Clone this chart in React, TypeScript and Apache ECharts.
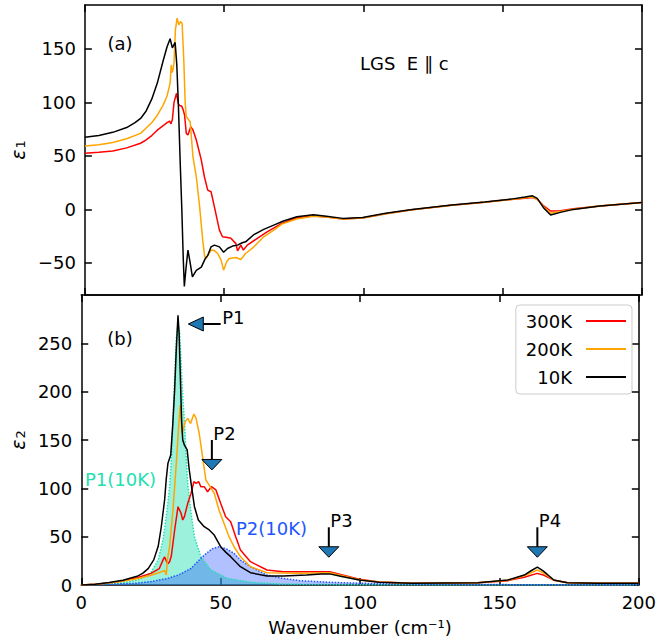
import React, { useEffect, useRef } from 'react';
import * as echarts from 'echarts';

const FONT = '"DejaVu Sans", sans-serif';

// ---------- top panel: epsilon_1 ----------
const e1X10K = [0,5,10,15,18,20,22,24,26,28,29.5,30.6,31.4,32.4,33.0,33.6,34.2,34.8,35.3,35.7,36.3,37.0,37.8,38.6,39.3,40,41.8,43.2,44.1,45.3,46.5,48.3,49.8,51.2,53,54.8,56.5,57.7,60.7,64.2,67.8,71.3,76.1,82,86.7,92.6,99.7,108,117.5,131.7,143.5,153,158,160.7,162.4,164.8,167.2,170.7,175.4,184.9,200];
const e1Y10K = [67.4,69,72,76.5,81,85,92,103,118,138,152,159.5,151,156,135,95,45,0,-45,-72,-55,-38,-50,-63,-60,-57,-54,-46,-43,-35,-33.4,-35,-40,-36.5,-34.3,-33.4,-31.2,-30.3,-23.5,-18.7,-14.7,-10.9,-6.9,-5,-6.3,-8.4,-7.5,-3.7,0,4,6.8,9.6,11.5,12.7,10.3,1,-5.3,-2.8,0,3.1,6.5];

const e1X200K = [0,5,10,15,20,22,24,26,28,29.5,30.6,31.0,31.3,31.6,32.0,32.5,33.1,33.7,34.3,34.9,35.5,36.0,36.4,37.3,37.8,38.8,40,41.2,42.3,43.0,43.5,45.3,46.5,47.7,48.9,49.8,50.9,51.8,54.2,56,57.7,60.7,64.2,67.8,70.7,76,82,86.7,92.6,99.7,108,117.5,131.7,143.5,153,158,160.7,162.4,164.8,167.2,170.7,175.4,184.9,200];
const e1Y200K = [59.2,60.5,62.5,66,71,76,81,88,97,106,118,135,128,130,137,168,178.7,172.5,175.5,174,140,100,86.7,83.5,82,49,30.5,2.4,-28.7,-44,-45.9,-38,-38.5,-41.2,-47.4,-56.8,-49,-45.9,-45,-46.8,-41.2,-35,-25.6,-19.4,-13.8,-9,-6.5,-7.2,-9,-8,-4,-0.3,3.8,6.6,9.3,10.8,11.5,9.5,2,-3.5,-2,0.2,3.1,6.5];

const e1X300K = [0,5,10,15,20,22,24,26,28,29.5,30.4,30.9,31.4,32.0,32.9,33.5,34.0,34.7,35.3,35.8,36.4,37,38,38.8,40,41.8,42.9,44.1,45.3,46.5,48.3,49.4,51.2,52.4,54.2,54.8,56,56.9,58.3,61.9,65.4,70.7,76,82,86.7,92.6,99.7,108,117.5,131.7,143.5,153,158,160.7,162.4,164.8,167.2,170.7,175.4,184.9,200];
const e1Y300K = [52.4,53.3,54.6,57.5,61.8,65,69,74,78,81,82.5,80,84,100,108.5,99,97,96.7,93,88,71,69.5,77.3,74.2,64.8,46,30.5,18,16.5,2.4,-19.4,-25.6,-26.2,-27,-32,-38.7,-33.4,-38,-33.4,-27.1,-21,-13.1,-8,-6.2,-7.2,-9,-8,-4,-0.3,3.8,6.6,9.3,10.5,11,9.5,3,-1.5,-1.2,0.5,3.2,6.5];

// ---------- bottom panel: epsilon_2 ----------
const e2X10K = [0,5,10,15,20,22,24,26,27.6,28.7,29.9,30.5,31.1,32.1,32.8,33.5,34.1,34.7,35.1,35.5,36.0,36.4,37,38,38.7,39.4,40.6,42,44.1,45.9,47.7,50,51.8,53.6,57.1,60.7,66.6,72.5,80.8,86,89.1,93,99.7,106.8,118.6,142.3,153,158.9,161.5,163.6,165,166,169.5,174.3,185,200];
const e2Y10K = [0,0.8,2.5,5,9,12,17,26,40,60,88,110,126,134.5,165,202,245,279,260,220,170,150,144.8,139.7,120,105.2,81,67.2,60.3,56.9,51.7,39.6,34,29.3,18.9,12.7,9.3,9.3,10.3,11.5,11.5,9,5.2,2.8,1.7,2.4,5.2,10.3,15,18.5,16,13.8,5.2,2.4,1.8,1.7];

const e2X200K = [0,5,10,15,20,25,28,29.9,30.5,30.9,31.7,32.9,34.1,35,35.5,36.2,37.3,38.2,39.2,40.4,41.2,42.3,43.5,44.7,45.9,47.7,49.4,51.2,53,54.8,57.1,60.7,66.6,78.4,89.1,93,99.7,106.8,118.6,142.3,153,158.9,163.6,166,169.5,174.3,185,200];
const e2Y200K = [0,0.7,2,4,6.5,10,13,15,10.3,25.9,40,77.6,126,167,186,157,169,172.4,167,176.9,172.4,157,132.7,108.6,103.4,94.9,77.6,63.8,50,39.6,29.3,18.9,12.7,12.1,12.7,10,5.5,3,1.8,2.4,5,9.5,15.5,12,5,2.4,1.8,1.7];

const e2X300K = [0,5,10,15,20,25,28,29.5,29.9,30.5,31.1,31.7,32.3,33.5,34.7,35.8,36.4,37,38.2,39.4,40.4,41.2,42.1,42.9,44.1,45.3,46.7,48.3,50,51.8,53.6,55.4,57.1,60.7,66.6,72.5,80,89.1,93,99.7,106.8,118.6,142.3,153,158.9,163.6,166,169.5,174.3,185,200];
const e2Y300K = [0,0.8,2.2,4.5,7.5,12,17,27,29,25,22,24,30,56.9,81,74.2,67.2,70.7,84.5,94.9,106.9,105.2,106.9,101.7,101.7,96.5,101.7,98.3,84.5,70.7,65.5,50,36.2,24.1,15.5,13.8,13.8,13.8,11,5.9,3,1.8,2.4,4.5,8,12,10,5,2.6,1.8,1.7];

// Lorentzian fit components (10K)
const p1FitX = [0,10,15,20,23,25,27.6,29.2,29.9,30.8,31.7,32.3,32.9,33.5,34.1,34.7,35.3,35.9,36.5,37,37.6,38.2,39.4,40.6,42.9,46.5,52.4,60.7,70,80,100,150,200];
const p1FitY = [0,1,2.5,5,9,13,26,45,58,78,102,130,171,215,255,270,262,225,190,171,135,105,74,50,29.3,15.5,6.9,2.8,1.2,0.6,0.2,0.05,0];
const p2FitX = [0,10,19.3,25,31.1,35,39.4,42.9,45,47,49.4,52,54.8,57,60.7,66.6,72,78.4,89.1,100,120,150,200];
const p2FitY = [0,0.8,1.7,3.5,6.9,10.5,17.2,27.6,33,37.5,39.6,37.5,32.8,26,18.9,10.3,7,4.5,2.8,1.8,0.9,0.4,0.2];

// Peak arrows (tail -> tip, data coordinates of panel b)
const arrowTailX = [50, 46.85, 88.8, 163.6];
const arrowTailY = [270, 150, 59.7, 59.7];
const arrowTipX = [38.4, 46.85, 88.8, 163.6];
const arrowTipY = [270, 119, 28.7, 28.7];
const arrowLabels = ['P1', 'P2', 'P3', 'P4'];

// Axis ticks
const e1Ticks = [-50, 0, 50, 100, 150];
const e2Ticks = [0, 50, 100, 150, 200, 250];
const seriesNames = ['300K', '200K', '10K'];

const zip = (xs: number[], ys: number[]) => xs.map((x, i) => [x, ys[i]]);
const fmt = (v: number) => (v < 0 ? '\u2212' + Math.abs(v) : String(v));

const TEAL = '#22e0b0';
const BLUE = '#2255ff';

function xAxisDef(gridIndex: number, position: 'top' | 'bottom', labels: boolean): any {
  return {
    type: 'value', gridIndex, position, min: 0, max: 200, interval: 50,
    axisLine: { show: true, onZero: false, lineStyle: { color: '#000', width: 1.5 } },
    axisTick: { show: true, inside: true, length: 7, lineStyle: { color: '#000', width: 1.5 } },
    axisLabel: { show: labels, color: '#000', fontSize: 18, fontFamily: FONT, margin: 8 },
    splitLine: { show: false },
    ...(labels ? {
      name: 'Wavenumber (cm\u207B\u00B9)', nameLocation: 'middle', nameGap: 33,
      nameTextStyle: { color: '#000', fontSize: 18, fontFamily: FONT },
    } : {}),
  };
}

function yAxisDef(gridIndex: number, position: 'left' | 'right', min: number, max: number, ticks: number[], name: string | null): any {
  return {
    type: 'value', gridIndex, position, min, max,
    axisLine: { show: true, onZero: false, lineStyle: { color: '#000', width: 1.5 } },
    axisTick: { show: true, inside: true, length: 7, customValues: ticks, lineStyle: { color: '#000', width: 1.5 } },
    axisLabel: { show: !!name, customValues: ticks, formatter: fmt, color: '#000', fontSize: 18, fontFamily: FONT, margin: 9 },
    splitLine: { show: false },
    ...(name ? {
      name, nameLocation: 'middle', nameGap: 54, nameRotate: 90,
      nameTextStyle: {
        color: '#000', fontSize: 18, fontFamily: FONT,
        rich: {
          e: { fontStyle: 'italic', fontSize: 19, fontFamily: FONT, color: '#000', verticalAlign: 'bottom' },
          s: { fontSize: 13, fontFamily: FONT, color: '#000', verticalAlign: 'bottom', padding: [0, 0, 0, 1] },
        },
      },
    } : {}),
  };
}

function lineSeries(name: string, color: string, xs: number[], ys: number[], xi: number, yi: number): any {
  return {
    type: 'line', name, xAxisIndex: xi, yAxisIndex: yi, data: zip(xs, ys),
    showSymbol: false, symbol: 'none', color,
    lineStyle: { color, width: 1.5 }, itemStyle: { color }, z: 3,
  };
}

function fitSeries(name: string, color: string, fill: string, xs: number[], ys: number[]): any {
  return {
    type: 'line', name, xAxisIndex: 2, yAxisIndex: 2, data: zip(xs, ys),
    showSymbol: false, symbol: 'none', color,
    lineStyle: { color, width: 1.5, type: 'dotted' },
    areaStyle: { color: fill, opacity: 1 }, z: 2,
  };
}

const option: any = {
  animation: false,
  backgroundColor: '#ffffff',
  textStyle: { fontFamily: FONT },
  grid: [
    { left: 79, top: 5, width: 563, height: 290 },
    { left: 79, top: 295, width: 563, height: 290 },
  ],
  xAxis: [
    xAxisDef(0, 'bottom', false),
    xAxisDef(0, 'top', false),
    xAxisDef(1, 'bottom', true),
    xAxisDef(1, 'top', false),
  ],
  yAxis: [
    yAxisDef(0, 'left', -80, 191, e1Ticks, '{e|\u03B5}{s|1}'),
    yAxisDef(0, 'right', -80, 191, e1Ticks, null),
    yAxisDef(1, 'left', 0, 300, e2Ticks, '{e|\u03B5}{s|2}'),
    yAxisDef(1, 'right', 0, 300, e2Ticks, null),
  ],
  legend: {
    data: seriesNames, orient: 'vertical', right: 27, top: 305, align: 'right',
    icon: 'rect', itemWidth: 40, itemHeight: 2, itemGap: 10,
    padding: [7, 6, 8, 10], borderColor: '#cccccc', borderWidth: 1, borderRadius: 4,
    backgroundColor: 'rgba(255,255,255,0.8)', selectedMode: false,
    textStyle: { fontSize: 18, color: '#000', fontFamily: FONT, padding: [0, 9, 0, 0] },
  },
  graphic: [
    { type: 'text', x: 120, y: 43, style: { text: '(a)', fill: '#000', font: '18px ' + FONT, align: 'center', verticalAlign: 'middle' } },
    { type: 'text', x: 120, y: 338, style: { text: '(b)', fill: '#000', font: '18px ' + FONT, align: 'center', verticalAlign: 'middle' } },
    { type: 'text', x: 360, y: 63, style: { text: 'LGS\u00A0\u00A0E\u00A0\u2225\u00A0c', fill: '#000', font: '18px ' + FONT, align: 'left', verticalAlign: 'middle' } },
    { type: 'text', x: 85, y: 479, style: { text: 'P1(10K)', fill: TEAL, font: '18px ' + FONT, align: 'left', verticalAlign: 'middle' } },
    { type: 'text', x: 236, y: 528, style: { text: 'P2(10K)', fill: BLUE, font: '18px ' + FONT, align: 'left', verticalAlign: 'middle' } },
  ],
  series: [
    fitSeries('P1(10K)', TEAL, 'rgba(34,224,176,0.45)', p1FitX, p1FitY),
    fitSeries('P2(10K)', BLUE, 'rgba(40,80,255,0.36)', p2FitX, p2FitY),
    lineSeries('300K', '#ff0000', e1X300K, e1Y300K, 0, 0),
    lineSeries('200K', '#ffa500', e1X200K, e1Y200K, 0, 0),
    lineSeries('10K', '#000000', e1X10K, e1Y10K, 0, 0),
    lineSeries('300K', '#ff0000', e2X300K, e2Y300K, 2, 2),
    lineSeries('200K', '#ffa500', e2X200K, e2Y200K, 2, 2),
    lineSeries('10K', '#000000', e2X10K, e2Y10K, 2, 2),
    {
      type: 'custom', name: 'arrows', xAxisIndex: 2, yAxisIndex: 2, z: 6, clip: false,
      data: arrowTailX.map((x, i) => [x, arrowTailY[i], arrowTipX[i], arrowTipY[i]]),
      encode: { x: [0, 2], y: [1, 3] },
      renderItem: (params: any, api: any) => {
        const i = params.dataIndex;
        const a = api.coord([api.value(0), api.value(1)]);
        const b = api.coord([api.value(2), api.value(3)]);
        const dx = b[0] - a[0];
        const dy = b[1] - a[1];
        const len = Math.hypot(dx, dy) || 1;
        const ux = dx / len;
        const uy = dy / len;
        const horiz = Math.abs(dx) > Math.abs(dy);
        const hl = horiz ? 15 : 10.5;
        const hw = horiz ? 7 : 10;
        const bx = b[0] - ux * hl;
        const by = b[1] - uy * hl;
        const px = -uy;
        const py = ux;
        return {
          type: 'group',
          children: [
            { type: 'line', shape: { x1: a[0], y1: a[1], x2: bx, y2: by }, style: { stroke: '#000', lineWidth: 2 } },
            {
              type: 'polygon',
              shape: { points: [[b[0], b[1]], [bx + px * hw, by + py * hw], [bx - px * hw, by - py * hw]] },
              style: { fill: '#1f77b4', stroke: '#000', lineWidth: 1 },
            },
            {
              type: 'text', x: a[0] + 1.5, y: a[1] - 6.5,
              style: { text: arrowLabels[i], fill: '#000', font: '18px ' + FONT, align: 'left', verticalAlign: 'middle' },
            },
          ],
        };
      },
    },
  ],
};

export default function App() {
  const ref = useRef<HTMLDivElement>(null);
  useEffect(() => {
    if (!ref.current) return;
    const chart = echarts.init(ref.current, null, { renderer: 'svg' });
    chart.setOption(option);
    return () => chart.dispose();
  }, []);
  return (
    <div
      ref={ref}
      style={{ position: 'fixed', left: 0, top: 0, width: 659, height: 644, background: '#fff' }}
    />
  );
}
